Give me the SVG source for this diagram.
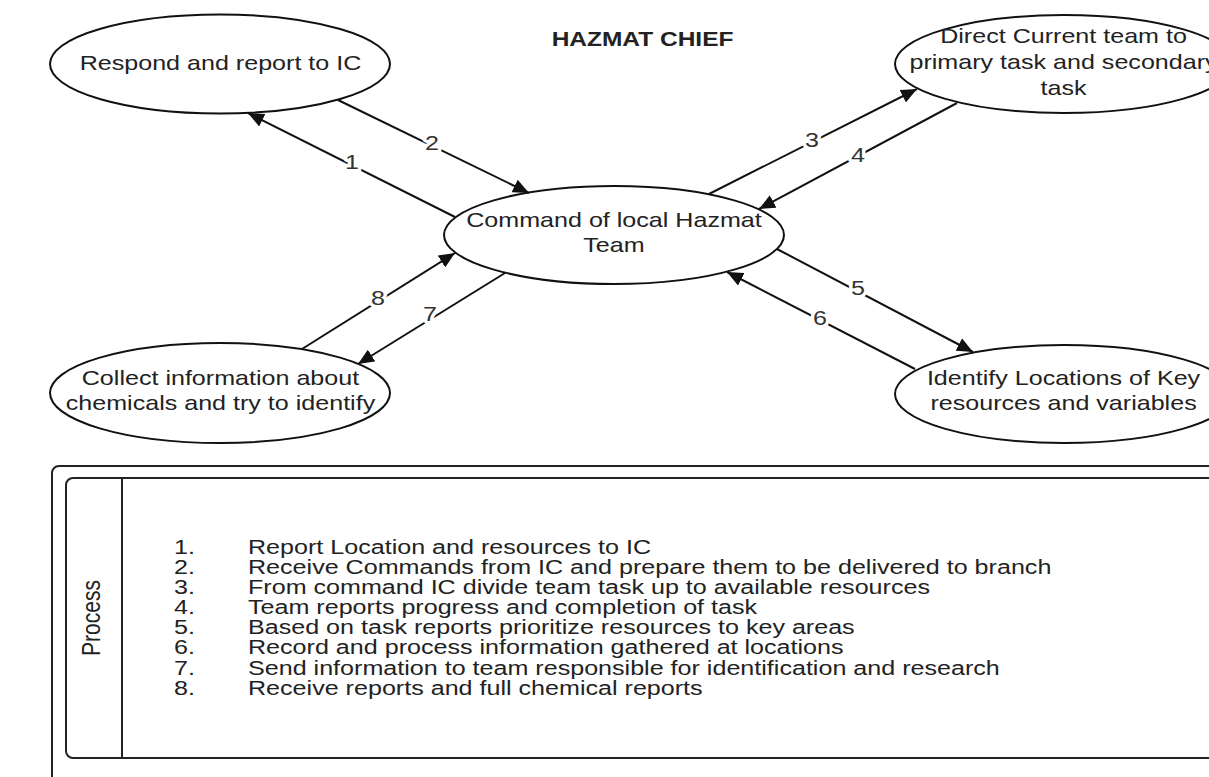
<svg xmlns="http://www.w3.org/2000/svg" width="1209" height="777" viewBox="0 0 1209 777">
  <defs>
    <marker id="arrow" markerUnits="userSpaceOnUse" markerWidth="18" markerHeight="14" refX="16" refY="7" orient="auto">
      <path d="M0,0 L16,7 L0,14 Z" fill="#111"/>
    </marker>
    <style>
      .node ellipse { fill: #fff; stroke: #111; stroke-width: 2; }
      .t { font-family: "Liberation Sans", Arial, sans-serif; font-size: 21px; fill: #222; text-anchor: middle; }
      .title { font-family: "Liberation Sans", Arial, sans-serif; font-size: 20.5px; font-weight: bold; fill: #222; text-anchor: middle; }
      .conn line { stroke: #111; stroke-width: 2; marker-end: url(#arrow); }
      .lbl { font-family: "Liberation Sans", Arial, sans-serif; font-size: 21px; fill: #333; text-anchor: middle; stroke: #fff; stroke-width: 6; paint-order: stroke; stroke-linejoin: round; }
      .li { font-family: "Liberation Sans", Arial, sans-serif; font-size: 19.5px; fill: #222; }
      .frame { fill: #fff; stroke: #222; stroke-width: 2; }
    </style>
  </defs>
  <rect width="1209" height="777" fill="#fff"/>

  <g id="title">
    <text class="title" transform="scale(1.195 1)" x="537.7" y="46">HAZMAT CHIEF</text>
  </g>

  <g id="n-respond" class="node">
    <ellipse cx="220" cy="64" rx="170" ry="49.5"/>
    <text class="t" transform="scale(1.195 1)" x="184.5" y="70">Respond and report to IC</text>
  </g>

  <g id="n-direct" class="node">
    <ellipse cx="1064" cy="64" rx="169" ry="49"/>
    <text class="t" transform="scale(1.195 1)" x="890" y="43">Direct Current team to</text>
    <text class="t" transform="scale(1.195 1)" x="890" y="69">primary task and secondary</text>
    <text class="t" transform="scale(1.195 1)" x="890" y="95">task</text>
  </g>

  <g id="n-command" class="node">
    <ellipse cx="614" cy="235" rx="170" ry="49"/>
    <text class="t" transform="scale(1.195 1)" x="513.8" y="227">Command of local Hazmat</text>
    <text class="t" transform="scale(1.195 1)" x="513.8" y="252">Team</text>
  </g>

  <g id="n-collect" class="node">
    <ellipse cx="220" cy="393" rx="170" ry="50"/>
    <text class="t" transform="scale(1.195 1)" x="184.5" y="385">Collect information about</text>
    <text class="t" transform="scale(1.195 1)" x="184.5" y="410">chemicals and try to identify</text>
  </g>

  <g id="n-identify" class="node">
    <ellipse cx="1064" cy="394" rx="169" ry="49"/>
    <text class="t" transform="scale(1.195 1)" x="890" y="385">Identify Locations of Key</text>
    <text class="t" transform="scale(1.195 1)" x="890" y="410">resources and variables</text>
  </g>

  <g id="connectors" class="conn">
    <line x1="455" y1="217" x2="248" y2="113"/>
    <line x1="338" y1="100" x2="529" y2="193"/>
    <line x1="709" y1="194" x2="917" y2="89"/>
    <line x1="957" y1="103" x2="759" y2="209"/>
    <line x1="777" y1="249" x2="973" y2="352"/>
    <line x1="915" y1="369" x2="727" y2="272"/>
    <line x1="505" y1="273" x2="358" y2="364"/>
    <line x1="302" y1="349" x2="455" y2="253"/>
    <g transform="scale(1.195 1)">
      <text class="lbl" x="294.6" y="169.5">1</text>
      <text class="lbl" x="361.5" y="150.5">2</text>
      <text class="lbl" x="679.5" y="147.5">3</text>
      <text class="lbl" x="718" y="162.5">4</text>
      <text class="lbl" x="718" y="295.5">5</text>
      <text class="lbl" x="686.2" y="325.5">6</text>
      <text class="lbl" x="359.8" y="321.5">7</text>
      <text class="lbl" x="316.3" y="305.5">8</text>
    </g>
  </g>

  <g id="process-panel">
    <rect class="frame" x="52" y="466" width="1200" height="400" rx="7"/>
    <rect class="frame" x="66" y="478" width="1200" height="280" rx="7"/>
    <line x1="122" y1="478" x2="122" y2="758" stroke="#222" stroke-width="2"/>
    <g transform="scale(1.195 1)">
      <text class="t" transform="translate(83.7 618) rotate(-90)" x="0" y="0">Process</text>
    </g>
    <g class="li" transform="scale(1.287 1)">
      <text x="135.2" y="554">1.</text>
      <text x="135.2" y="574.1">2.</text>
      <text x="135.2" y="594.2">3.</text>
      <text x="135.2" y="614.3">4.</text>
      <text x="135.2" y="634.4">5.</text>
      <text x="135.2" y="654.5">6.</text>
      <text x="135.2" y="674.6">7.</text>
      <text x="135.2" y="694.7">8.</text>
      <text x="192.7" y="554">Report Location and resources to IC</text>
      <text x="192.7" y="574.1">Receive Commands from IC and prepare them to be delivered to branch</text>
      <text x="192.7" y="594.2">From command IC divide team task up to available resources</text>
      <text x="192.7" y="614.3">Team reports progress and completion of task</text>
      <text x="192.7" y="634.4">Based on task reports prioritize resources to key areas</text>
      <text x="192.7" y="654.5">Record and process information gathered at locations</text>
      <text x="192.7" y="674.6">Send information to team responsible for identification and research</text>
      <text x="192.7" y="694.7">Receive reports and full chemical reports</text>
    </g>
  </g>
</svg>
